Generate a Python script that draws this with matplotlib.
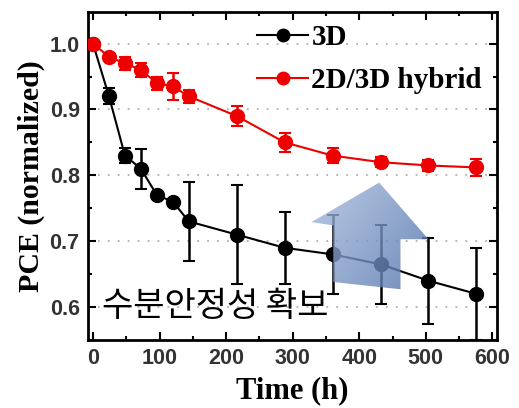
import numpy as np
import matplotlib
matplotlib.use("Agg")
import matplotlib.pyplot as plt
from matplotlib.patches import Polygon
from matplotlib.lines import Line2D
from matplotlib.ticker import MultipleLocator
from matplotlib.colors import LinearSegmentedColormap

time_h = [0, 24, 48, 72, 96, 120, 144, 216, 288, 360, 432, 504, 576]
pce_3d = [1.0, 0.92, 0.83, 0.81, 0.77, 0.76, 0.73, 0.71, 0.69, 0.68, 0.665, 0.64, 0.62]
err_3d = [0.0, 0.012, 0.012, 0.03, 0.0, 0.0, 0.06, 0.075, 0.055, 0.06, 0.06, 0.065, 0.07]
pce_hyb = [1.0, 0.98, 0.97, 0.96, 0.94, 0.935, 0.92, 0.89, 0.85, 0.83, 0.82, 0.815, 0.812]
err_hyb = [0.0, 0.005, 0.01, 0.01, 0.01, 0.02, 0.01, 0.015, 0.015, 0.012, 0.008, 0.008, 0.013]
labels = ["3D", "2D/3D hybrid"]
annotation = "수분안정성 확보"
xticks = [0, 100, 200, 300, 400, 500, 600]
yticks = [0.6, 0.7, 0.8, 0.9, 1.0]

fig = plt.figure(figsize=(5.19, 4.08), dpi=100)
ax = fig.add_axes([88/519, 1-340/408, (497-88)/519, (340-12)/408])

for y in yticks:
    ax.axhline(y, color="#b0b0b0", lw=1.3, ls=(0, (1, 4.5)), zorder=0)

ax.errorbar(time_h, pce_3d, yerr=err_3d, color="black", marker="o", ms=10,
            lw=1.5, capsize=4, elinewidth=1.8, capthick=1.5, zorder=3)
ax.errorbar(time_h, pce_hyb, yerr=err_hyb, color="#ee0000", marker="o", ms=10,
            lw=1.5, capsize=4, elinewidth=1.8, capthick=1.5, zorder=3)

# gradient arrow
arrow_pts = np.array([[361, 0.638], [462, 0.627], [462, 0.703], [504, 0.703],
                      [430, 0.789], [328, 0.729], [361, 0.724]])
poly = Polygon(arrow_pts, closed=True, facecolor="none", edgecolor="none", zorder=4)
ax.add_patch(poly)
gx = np.linspace(0, 1, 256).reshape(1, -1)
gy = np.linspace(0, 1, 256).reshape(-1, 1)
grad = 0.6 * gx + 0.4 * gy
cmap = LinearSegmentedColormap.from_list("bl", ["#adc1e2", "#4a6ca6"])
im = ax.imshow(grad, extent=[320, 510, 0.62, 0.795], aspect="auto", cmap=cmap,
               alpha=0.8, zorder=4, origin="upper")
im.set_clip_path(poly)

ax.text(14, 0.601, annotation, fontsize=24.5, family=["Noto Sans CJK KR"],
        fontweight="medium", va="center", ha="left", zorder=5)

ax.xaxis.set_minor_locator(MultipleLocator(50))
ax.yaxis.set_minor_locator(MultipleLocator(0.05))
ax.set_xticks(xticks)
ax.set_xticklabels([str(v) for v in xticks])
ax.set_yticks(yticks)
ax.set_yticklabels([f"{v:.1f}" for v in yticks])
ax.tick_params(which="both", direction="in", top=True, right=True, width=1.5)
ax.tick_params(which="major", length=6, pad=6)
ax.tick_params(which="minor", length=3)
for lab in ax.get_xticklabels() + ax.get_yticklabels():
    lab.set_fontfamily("Liberation Sans")
    lab.set_fontweight("bold")
    lab.set_fontsize(15.5)
    lab.set_color("#333333")
ax.set_xlim(-7.5, 607)
ax.set_ylim(0.55, 1.048)

for sp in ax.spines.values():
    sp.set_linewidth(2)

ax.set_xlabel("Time (h)", fontfamily="Liberation Serif", fontweight="bold", fontsize=22, labelpad=5)
ax.set_ylabel("PCE (normalized)", fontfamily="Liberation Serif", fontweight="bold", fontsize=21.5, labelpad=3)

handles = [Line2D([], [], color="black", marker="o", ms=9, lw=1.5),
           Line2D([], [], color="#ee0000", marker="o", ms=9, lw=1.5)]
leg = ax.legend(handles, labels, loc="upper right", bbox_to_anchor=(1.02, 1.035), frameon=False,
                prop={"family": "Liberation Serif", "weight": "bold", "size": 21},
                handlelength=1.75, handletextpad=0.1, labelspacing=0.55, borderpad=0.3)

fig.savefig("out.png", dpi=100)
